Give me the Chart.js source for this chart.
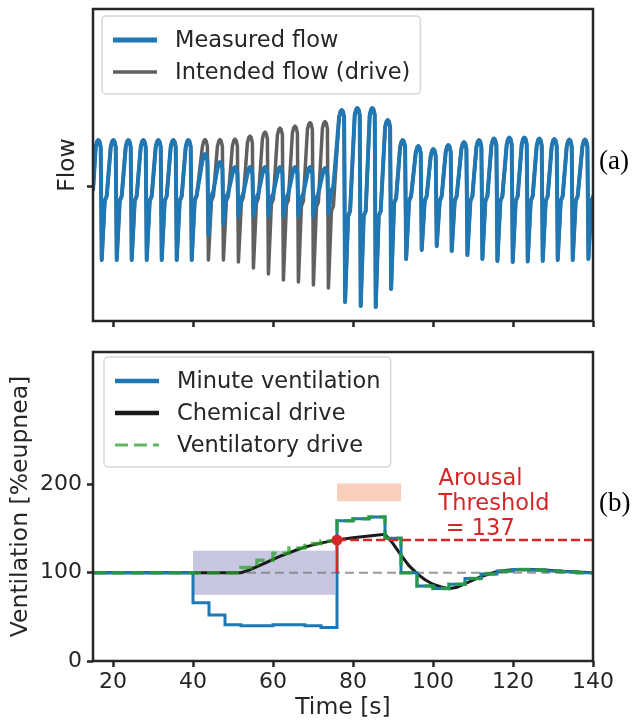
<!DOCTYPE html>
<html>
<head>
<meta charset="utf-8">
<title>Flow and ventilation</title>
<script src="https://cdn.jsdelivr.net/npm/chart.js@4.4.1/dist/chart.umd.min.js"></script>
<style>
  body { margin: 0; background: #fff; }
  #page { position: relative; width: 633px; height: 724px; }
  #flowChart { position: absolute; left: 0; top: 0; }
  #ventChart { position: absolute; left: 0; top: 340px; }
</style>
</head>
<body>
<div id="page">
  <canvas id="flowChart" width="633" height="340"></canvas>
  <canvas id="ventChart" width="633" height="384"></canvas>
</div>
<script>
// ---------- panel (a): breath-by-breath flow ----------
// one entry per breath: time of the inspiratory peak, then peak / following trough / notch on the way back up
const breathPeakTime = [16.33, 20.08, 23.83, 27.58, 31.33, 35.08, 38.83,
  43.0, 46.75, 50.5, 54.25, 58.0, 61.75, 65.5, 69.25, 73.0,
  77.18, 81.08, 84.83, 88.68,
  92.43, 96.33, 100.08, 103.83, 107.75, 111.5, 115.25, 119.08, 122.83, 126.58, 130.33, 134.08, 138.0];
const measuredPeak = [4.6, 4.6, 4.6, 4.6, 4.6, 4.6, 4.6,
  3.2, 2.4, 1.9, 1.9, 1.9, 1.9, 1.9, 1.9, 1.8,
  7.6, 7.8, 7.8, 6.6,
  4.6, 4.0, 3.7, 4.1, 4.4, 4.6, 4.75, 4.85, 4.85, 4.75, 4.7, 4.65, 4.65];
const measuredTrough = [-7.4, -7.4, -7.4, -7.4, -7.4, -7.4, -7.4,
  -4.9, -3.8, -3.1, -3.0, -3.0, -3.0, -3.0, -3.0, -2.8,
  -11.6, -12.0, -12.1, -10.3,
  -7.3, -6.4, -6.0, -6.5, -6.9, -7.3, -7.5, -7.6, -7.55, -7.5, -7.4, -7.4, -7.3];
const measuredNotch = [-1.5, -1.5, -1.5, -1.5, -1.5, -1.5, -1.4,
  -1.0, -1.1, -1.2, -1.2, -1.2, -1.2, -1.2, -1.2, -0.5,
  -3.0, -3.0, -3.0, -1.7,
  -1.5, -1.5, -1.5, -1.5, -1.5, -1.5, -1.5, -1.5, -1.5, -1.5, -1.5, -1.5, -1.5];
const drivePeak = [4.6, 4.6, 4.6, 4.6, 4.6, 4.6, 4.6,
  4.65, 4.65, 4.7, 5.0, 5.4, 5.8, 6.0, 6.35, 6.45,
  7.6, 7.8, 7.8, 6.6,
  4.6, 4.0, 3.7, 4.1, 4.4, 4.6, 4.75, 4.85, 4.85, 4.75, 4.7, 4.65, 4.65];
const driveTrough = [-7.4, -7.4, -7.4, -7.4, -7.4, -7.4, -7.4,
  -7.4, -7.4, -7.6, -8.2, -8.8, -9.4, -9.6, -9.9, -10.2,
  -11.6, -12.0, -12.1, -10.3,
  -7.3, -6.4, -6.0, -6.5, -6.9, -7.3, -7.5, -7.6, -7.55, -7.5, -7.4, -7.4, -7.3];
const driveNotch = [-1.5, -1.5, -1.5, -1.5, -1.5, -1.5, -1.5,
  -1.5, -1.5, -1.6, -1.7, -1.8, -1.9, -2.0, -2.1, -2.5,
  -3.0, -3.0, -3.0, -1.7,
  -1.5, -1.5, -1.5, -1.5, -1.5, -1.5, -1.5, -1.5, -1.5, -1.5, -1.5, -1.5, -1.5];
const flowAtStart = -0.5;
const flowTicks = [0];

// ---------- panel (b): ventilation ----------
const stepTime = [15, 40, 44, 48, 52, 56, 60, 64, 68, 72, 76, 80, 84, 88, 92, 96, 100, 104, 108, 112, 116, 120, 124, 128, 132, 136, 140];
const minuteVent = [100, 66, 52, 41, 40, 40, 41, 41, 40, 38, 159, 161, 163, 139, 100, 85, 82, 87, 93.5, 98.5, 102, 103.5, 103, 102, 101, 100, 100];
const ventDrive = [100, 100, 100, 100, 106, 114, 122, 128, 133, 136, 159, 161, 163, 139, 100, 85, 82, 87, 93.5, 98.5, 102, 103.5, 103, 102, 101, 100, 100];
const chemTime = [15, 52, 54, 56, 58, 60, 62, 64, 66, 68, 70, 72, 74, 76, 80, 84, 88, 90, 92, 94, 96, 98, 100, 102, 104, 106, 108, 110, 112, 114, 116, 118, 120, 124, 128, 132, 136, 140];
const chemDrive = [100, 100, 103, 107, 111, 115, 119, 122.5, 126, 129, 131.5, 133.5, 135.5, 137, 139.5, 141.5, 143.5, 133, 120, 108, 99, 92, 87, 84, 82, 83.5, 87.5, 91.5, 95.5, 98.5, 101, 102.5, 103.3, 103.5, 103, 101.8, 100.8, 100];
const eupnea = 100;
const arousalThreshold = 137;
const arousalOnset = 76;
const arousalSpan = [76, 92], arousalBand = [181, 201];
const lowDriveSpan = [40, 75.5], lowDriveBand = [75, 125];
const noteAt = [101.4, 199];
const noteLines = ['Arousal', 'Threshold', ' = ' + arousalThreshold];
const timeTicks = [20, 40, 60, 80, 100, 120, 140];
const ventTicks = [0, 100, 200];

const ink = '#262626';
Chart.defaults.font.family = "'DejaVu Sans', sans-serif";
Chart.defaults.font.size = 22;
Chart.defaults.color = ink;
const titleFont = { size: 23.5 };

// each breath: rounded inspiratory top, quick fall to the trough, notch on the way back up
function breathPoints(peak, trough, notch) {
  const pts = [{ x: 15, y: flowAtStart }];
  breathPeakTime.forEach((t, i) => {
    pts.push({ x: t - 0.65, y: peak[i] - 0.7 });
    pts.push({ x: t - 0.3, y: peak[i] - 0.15 });
    pts.push({ x: t, y: peak[i] });
    pts.push({ x: t + 0.3, y: peak[i] - 0.15 });
    pts.push({ x: t + 0.6, y: peak[i] - 0.7 });
    pts.push({ x: t + 0.85, y: trough[i] });
    pts.push({ x: t + 1.6, y: notch[i] });
    pts.push({ x: t + 2.1, y: notch[i] + 0.5 });
  });
  return pts;
}

function zip(xs, ys) {
  return xs.map((x, i) => ({ x: x, y: ys[i] }));
}

// fixed axis boxes so the plot area lands where the original has it
function fixWidth(w) {
  return ax => { ax.width = w; ax.paddingTop = 0; ax.paddingBottom = 0; };
}
function fixHeight(h) {
  return ax => { ax.height = h; ax.paddingLeft = 0; ax.paddingRight = 0; };
}

const tickGrid = { drawOnChartArea: false, drawTicks: true, tickLength: 6, tickWidth: 2.5, tickColor: ink };

// axes box drawn on top of the lines, like matplotlib spines
const frame = {
  id: 'frame',
  afterDatasetsDraw(chart) {
    const { ctx, chartArea: a } = chart;
    ctx.save();
    ctx.strokeStyle = ink;
    ctx.lineWidth = 2.5;
    ctx.strokeRect(a.left, a.top, a.right - a.left, a.bottom - a.top);
    ctx.restore();
  }
};

const boxLegend = {
  id: 'boxLegend',
  afterDraw(chart, args, opts) {
    const { ctx, chartArea: a } = chart;
    const items = chart.data.datasets.filter(d => d.inLegend);
    ctx.save();
    ctx.font = "22.5px 'DejaVu Sans'";
    const textW = Math.max(...items.map(d => ctx.measureText(d.label).width));
    const x0 = a.left + opts.left, y0 = a.top + opts.top;
    const w = 72 + textW + 11, h = 14 + 32 * items.length;
    ctx.beginPath();
    ctx.roundRect(x0, y0, w, h, 4);
    ctx.fillStyle = 'rgba(255,255,255,0.8)';
    ctx.fill();
    ctx.strokeStyle = '#d6d6d6';
    ctx.lineWidth = 1.5;
    ctx.stroke();
    items.forEach((d, i) => {
      const y = y0 + 24 + 32 * i;
      ctx.beginPath();
      ctx.moveTo(x0 + 11, y);
      ctx.lineTo(x0 + 55, y);
      ctx.setLineDash(d.borderDash || []);
      ctx.strokeStyle = d.borderColor;
      ctx.lineWidth = d.legendWidth || d.borderWidth;
      ctx.stroke();
      ctx.setLineDash([]);
      ctx.fillStyle = ink;
      ctx.textBaseline = 'middle';
      ctx.fillText(d.label, x0 + 73, y + 1);
    });
    ctx.restore();
  }
};

const panelTag = {
  id: 'panelTag',
  afterDraw(chart, args, opts) {
    const { ctx, chartArea: a } = chart;
    ctx.save();
    ctx.font = "27px 'Liberation Serif'";
    ctx.fillStyle = '#000';
    ctx.textBaseline = 'middle';
    ctx.fillText(opts.text, a.right + 6, a.top + 0.49 * (a.bottom - a.top));
    ctx.restore();
  }
};

const shades = {
  id: 'shades',
  beforeDatasetsDraw(chart) {
    const { ctx, scales: { x, y } } = chart;
    const boxes = [
      [lowDriveSpan, lowDriveBand, 'rgba(30,30,140,0.25)'],
      [arousalSpan, arousalBand, 'rgba(248,130,80,0.38)']
    ];
    ctx.save();
    boxes.forEach(([xs, ys, color]) => {
      const x1 = x.getPixelForValue(xs[0]), x2 = x.getPixelForValue(xs[1]);
      const y1 = y.getPixelForValue(ys[1]), y2 = y.getPixelForValue(ys[0]);
      ctx.fillStyle = color;
      ctx.fillRect(x1, y1, x2 - x1, y2 - y1);
    });
    ctx.restore();
  }
};

const arousalNote = {
  id: 'arousalNote',
  afterDatasetsDraw(chart) {
    const { ctx, scales: { x, y } } = chart;
    ctx.save();
    ctx.font = "22.5px 'DejaVu Sans'";
    ctx.fillStyle = '#d62728';
    ctx.textBaseline = 'alphabetic';
    const x0 = x.getPixelForValue(noteAt[0]), y0 = y.getPixelForValue(noteAt[1]);
    noteLines.forEach((s, i) => ctx.fillText(s, x0, y0 + 25 * i));
    ctx.restore();
  }
};

new Chart(document.getElementById('flowChart'), {
  type: 'line',
  data: {
    datasets: [
      { label: 'Measured flow', inLegend: true, data: breathPoints(measuredPeak, measuredTrough, measuredNotch),
        borderColor: '#1f77b4', borderWidth: 4, legendWidth: 5, order: 1 },
      { label: 'Intended flow (drive)', inLegend: true, data: breathPoints(drivePeak, driveTrough, driveNotch),
        borderColor: '#606060', borderWidth: 3.5, order: 2 }
    ]
  },
  options: {
    responsive: false,
    animation: false,
    events: [],
    layout: { padding: { top: 9, right: 40, left: 0, bottom: 0 } },
    elements: { point: { radius: 0 }, line: { borderJoinStyle: 'round', tension: 0 } },
    scales: {
      x: {
        type: 'linear', min: 15, max: 140,
        afterBuildTicks: ax => { ax.ticks = timeTicks.map(v => ({ value: v })); },
        afterFit: fixHeight(19),
        ticks: { callback: () => '' },
        grid: tickGrid,
        border: { display: false }
      },
      y: {
        min: -13.5, max: 17.7,
        afterBuildTicks: ax => { ax.ticks = flowTicks.map(v => ({ value: v })); },
        afterFit: fixWidth(93),
        ticks: { callback: () => '' },
        grid: tickGrid,
        border: { display: false },
        title: { display: true, text: 'Flow', font: titleFont, padding: { top: 54, bottom: 0 } }
      }
    },
    plugins: {
      legend: { display: false },
      tooltip: { enabled: false },
      boxLegend: { left: 9, top: 7 },
      panelTag: { text: '(a)' }
    }
  },
  plugins: [frame, boxLegend, panelTag]
});

new Chart(document.getElementById('ventChart'), {
  type: 'line',
  data: {
    datasets: [
      { label: 'Minute ventilation', inLegend: true, data: zip(stepTime, minuteVent), stepped: 'before',
        borderColor: '#1f77b4', borderWidth: 3, legendWidth: 4.5, order: 5 },
      { label: 'Chemical drive', inLegend: true, data: zip(chemTime, chemDrive),
        borderColor: '#1a1a1a', borderWidth: 3, legendWidth: 4.5, order: 6 },
      { label: 'Ventilatory drive', inLegend: true, data: zip(stepTime, ventDrive), stepped: 'before',
        borderColor: 'rgba(44,160,44,0.75)', borderWidth: 3.5, borderDash: [13, 6], legendWidth: 3, order: 4 },
      { label: 'eupnea', data: [{ x: 15, y: eupnea }, { x: 140, y: eupnea }],
        borderColor: 'rgba(128,128,128,0.8)', borderWidth: 2, borderDash: [9, 5], order: 9 },
      { label: 'threshold', data: [{ x: arousalOnset, y: arousalThreshold }, { x: 140, y: arousalThreshold }],
        borderColor: '#d62728', borderWidth: 2.5, borderDash: [9, 4], order: 3 },
      { label: 'onset', data: [{ x: arousalOnset, y: eupnea }, { x: arousalOnset, y: arousalThreshold }],
        borderColor: '#d62728', borderWidth: 2.5, order: 2 },
      { label: 'crossing', data: [{ x: arousalOnset, y: arousalThreshold }], showLine: false,
        pointRadius: 5.5, pointBackgroundColor: '#d62728', pointBorderWidth: 0, order: 1 }
    ]
  },
  options: {
    responsive: false,
    animation: false,
    events: [],
    layout: { padding: { top: 12, right: 40, left: 0, bottom: 0 } },
    elements: { point: { radius: 0 }, line: { tension: 0 } },
    scales: {
      x: {
        type: 'linear', min: 15, max: 140,
        afterBuildTicks: ax => { ax.ticks = timeTicks.map(v => ({ value: v })); },
        afterFit: fixHeight(63),
        ticks: { padding: 2 },
        grid: tickGrid,
        border: { display: false },
        title: { display: true, text: 'Time [s]', font: titleFont, padding: { top: 0, bottom: 2 } }
      },
      y: {
        min: 0, max: 350,
        afterBuildTicks: ax => { ax.ticks = ventTicks.map(v => ({ value: v })); },
        afterFit: fixWidth(93),
        ticks: { padding: 5 },
        grid: tickGrid,
        border: { display: false },
        title: { display: true, text: 'Ventilation [%eupnea]', font: titleFont, padding: { top: 7, bottom: 0 } }
      }
    },
    plugins: {
      legend: { display: false },
      tooltip: { enabled: false },
      boxLegend: { left: 11, top: 5 },
      panelTag: { text: '(b)' }
    }
  },
  plugins: [shades, frame, arousalNote, boxLegend, panelTag]
});
</script>
</body>
</html>
